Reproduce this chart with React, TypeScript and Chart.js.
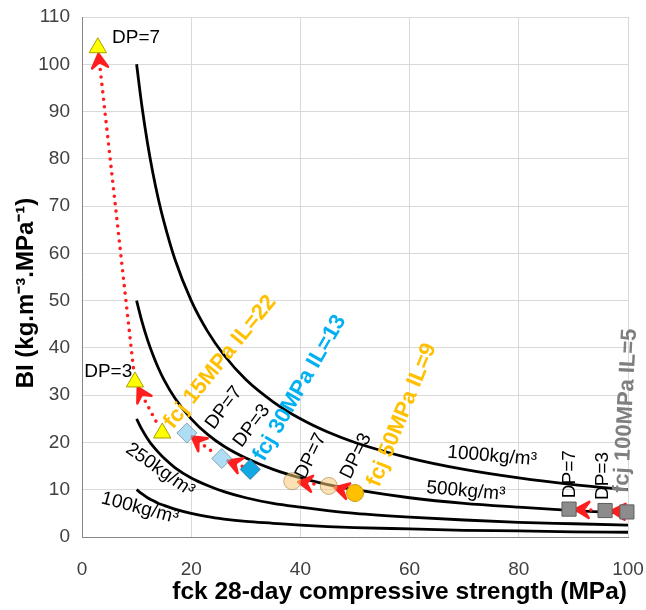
import React, { useEffect, useRef } from "react";
import { Chart, registerables } from "chart.js";

Chart.register(...registerables);

// ---------- data ----------
const xTickValues = [0, 20, 40, 60, 80, 100];
const fckGrid = [10, 11, 12, 13, 14, 15, 17, 20, 23, 26, 30, 35, 40, 45, 50, 60, 70, 80, 90, 100];
const bi1000 = [100, 90.9, 83.3, 76.9, 71.4, 66.7, 58.8, 50, 43.5, 38.5, 33.3, 28.6, 25, 22.2, 20, 16.7, 14.3, 12.5, 11.1, 10];
const bi500 = [50, 45.5, 41.7, 38.5, 35.7, 33.3, 29.4, 25, 21.7, 19.2, 16.7, 14.3, 12.5, 11.1, 10, 8.3, 7.1, 6.3, 5.6, 5];
const bi250 = [25, 22.7, 20.8, 19.2, 17.9, 16.7, 14.7, 12.5, 10.9, 9.6, 8.3, 7.1, 6.3, 5.6, 5, 4.2, 3.6, 3.1, 2.8, 2.5];
const bi100 = [10, 9.1, 8.3, 7.7, 7.1, 6.7, 5.9, 5, 4.3, 3.8, 3.3, 2.9, 2.5, 2.2, 2, 1.7, 1.4, 1.3, 1.1, 1];

// order of points in each series: DP=7, DP=3, initial
const fcj15X = [2.9, 9.7, 14.7];
const fcj15Y = [103.5, 32.8, 22.0];
const fcj30X = [19.2, 25.6, 30.8];
const fcj30Y = [22.0, 16.6, 14.3];
const fcj50X = [38.5, 45.2, 50.0];
const fcj50Y = [11.8, 10.8, 9.3];
const fcj100X = [89.2, 95.8, 99.8];
const fcj100Y = [5.9, 5.6, 5.3];

// text notes: [text, x, y, rotation(deg), style]
const notes: [string, number, number, number, string][] = [
  ["DP=7", 9.9, 105.6, 0, "dp"],
  ["DP=3", 4.8, 34.9, 0, "dp"],
  ["fcj 15MPa IL=22", 25.3, 37.0, -51, "orange"],
  ["fcj 30MPa IL=13", 39.9, 31.5, -60, "blue"],
  ["fcj 50MPa IL=9", 58.6, 25.8, -68, "orange"],
  ["fcj 100MPa IL=5", 99.6, 26.7, -87, "gray"],
  ["DP=7", 26.0, 27.3, -53, "dp"],
  ["DP=3", 31.1, 23.5, -53, "dp"],
  ["DP=7", 41.9, 17.1, -64, "dp"],
  ["DP=3", 50.2, 17.1, -64, "dp"],
  ["DP=7", 89.4, 13.3, -90, "dp"],
  ["DP=3", 95.4, 12.9, -90, "dp"],
  ["1000kg/m³", 75.1, 17.1, 5, "curve"],
  ["500kg/m³", 70.3, 9.7, 5, "curve"],
  ["250kg/m³", 14.3, 14.2, 35, "curve"],
  ["100kg/m³", 10.6, 6.1, 15, "curve"],
];

const FONT = '"Liberation Sans", Arial, sans-serif';
const noteStyles: Record<string, { color: string; font: string }> = {
  dp: { color: "#000000", font: `19px ${FONT}` },
  curve: { color: "#000000", font: `19px ${FONT}` },
  orange: { color: "#FFC000", font: `bold 22px ${FONT}` },
  blue: { color: "#00B0F0", font: `bold 22px ${FONT}` },
  gray: { color: "#7F7F7F", font: `bold 22px ${FONT}` },
};

function pts(xs: number[], ys: number[]) {
  return xs.map((x, i) => ({ x, y: ys[i] }));
}

function drawArrow(ctx: CanvasRenderingContext2D, x1: number, y1: number, x2: number, y2: number) {
  const dx = x2 - x1;
  const dy = y2 - y1;
  const len = Math.hypot(dx, dy);
  const ux = dx / len;
  const uy = dy / len;
  const px = -uy;
  const py = ux;
  const tipGap = 6;
  const headLen = 14;
  const half = 8;
  const tx = x2 - ux * tipGap;
  const ty = y2 - uy * tipGap;
  const bx = tx - ux * headLen * 0.6;
  const by = ty - uy * headLen * 0.6;
  ctx.save();
  ctx.strokeStyle = "#FF1E1E";
  ctx.fillStyle = "#FF1E1E";
  ctx.lineWidth = 3.6;
  ctx.lineCap = "round";
  ctx.setLineDash([0, 7.5]);
  ctx.beginPath();
  ctx.moveTo(bx, by);
  ctx.lineTo(x1 + ux * 8, y1 + uy * 8);
  ctx.stroke();
  ctx.setLineDash([]);
  ctx.lineJoin = "round";
  ctx.lineWidth = 2.5;
  ctx.beginPath();
  ctx.moveTo(tx, ty);
  ctx.lineTo(tx - ux * headLen + px * half, ty - uy * headLen + py * half);
  ctx.lineTo(bx, by);
  ctx.lineTo(tx - ux * headLen - px * half, ty - uy * headLen - py * half);
  ctx.closePath();
  ctx.fill();
  ctx.stroke();
  ctx.restore();
}

const chains = [
  [fcj15X, fcj15Y],
  [fcj30X, fcj30Y],
  [fcj50X, fcj50Y],
  [fcj100X, fcj100Y],
];

const annotPlugin = {
  id: "annot",
  afterDatasetDraw(chart: any, args: any) {
    if (args.index !== 0) return;
    const { ctx, scales } = chart;
    const xs = scales.x;
    const ys = scales.y;
    chains.forEach(([cx, cy]) => {
      for (let i = cx.length - 1; i > 0; i--) {
        drawArrow(
          ctx,
          xs.getPixelForValue(cx[i]),
          ys.getPixelForValue(cy[i]),
          xs.getPixelForValue(cx[i - 1]),
          ys.getPixelForValue(cy[i - 1])
        );
      }
    });
  },
  afterDatasetsDraw(chart: any) {
    const { ctx, scales } = chart;
    notes.forEach(([text, x, y, rot, style]) => {
      const st = noteStyles[style];
      ctx.save();
      ctx.translate(scales.x.getPixelForValue(x), scales.y.getPixelForValue(y));
      ctx.rotate((rot * Math.PI) / 180);
      ctx.font = st.font;
      ctx.fillStyle = st.color;
      ctx.textAlign = "center";
      ctx.textBaseline = "middle";
      ctx.fillText(text, 0, 0);
      ctx.restore();
    });
  },
  afterDraw(chart: any) {
    const { ctx, chartArea } = chart;
    ctx.save();
    ctx.fillStyle = "#000000";
    ctx.font = `bold 24.5px ${FONT}`;
    ctx.textBaseline = "middle";
    ctx.textAlign = "right";
    ctx.fillText("fck 28-day compressive strength (MPa)", chartArea.right - 1, 592);
    ctx.font = `bold 24px ${FONT}`;
    ctx.translate(26, 293);
    ctx.rotate(-Math.PI / 2);
    ctx.textAlign = "center";
    ctx.fillText("BI (kg.m⁻³.MPa⁻¹)", 0, 0);
    ctx.restore();
  },
};

export default function App() {
  const ref = useRef<HTMLCanvasElement | null>(null);
  useEffect(() => {
    if (!ref.current) return;
    const curve = (d: number[]) => ({
      type: "line" as const,
      data: pts(fckGrid, d),
      borderColor: "#000000",
      borderWidth: 2.8,
      pointRadius: 0,
      cubicInterpolationMode: "monotone" as const,
      fill: false,
      order: 10,
    });
    const chart = new Chart(ref.current, {
      type: "scatter",
      data: {
        datasets: [
          curve(bi1000),
          curve(bi500),
          curve(bi250),
          curve(bi100),
          {
            label: "fcj 15MPa",
            data: pts(fcj15X, fcj15Y),
            pointStyle: "triangle",
            pointRadius: 10,
            pointBackgroundColor: "#FFFF00",
            pointBorderColor: "#A8A000",
            pointBorderWidth: 1,
            clip: false,
            order: 0,
          },
          {
            label: "fcj 30MPa",
            data: pts(fcj30X, fcj30Y),
            pointStyle: "rectRot",
            pointRadius: 10,
            pointBackgroundColor: ["rgba(120,200,235,0.6)", "rgba(120,200,235,0.6)", "#12A9E2"],
            pointBorderColor: ["rgba(110,130,150,0.7)", "rgba(110,130,150,0.7)", "#2A7FA8"],
            pointBorderWidth: 1,
            clip: false,
            order: 0,
          },
          {
            label: "fcj 50MPa",
            data: pts(fcj50X, fcj50Y),
            pointStyle: "circle",
            pointRadius: 8.5,
            pointBackgroundColor: ["rgba(250,200,120,0.55)", "rgba(250,200,120,0.55)", "#FFC000"],
            pointBorderColor: ["rgba(160,130,70,0.6)", "rgba(160,130,70,0.6)", "#C89A10"],
            pointBorderWidth: 1,
            clip: false,
            order: 0,
          },
          {
            label: "fcj 100MPa",
            data: pts(fcj100X, fcj100Y),
            pointStyle: "rect",
            pointRadius: 10,
            pointBackgroundColor: "#8C8C8C",
            pointBorderColor: "#5E5E5E",
            pointBorderWidth: 1,
            clip: false,
            order: 0,
          },
        ] as any,
      },
      options: {
        animation: false,
        responsive: false,
        devicePixelRatio: 1,
        layout: { padding: { top: 17, right: 18, left: 0, bottom: 0 } },
        plugins: { legend: { display: false }, tooltip: { enabled: false } },
        scales: {
          x: {
            type: "linear",
            min: 0,
            max: 100,
            afterFit: (s: any) => {
              s.height = 73;
              s.paddingLeft = 0;
              s.paddingRight = 0;
            },
            afterBuildTicks: (s: any) => {
              s.ticks = xTickValues.map((v) => ({ value: v }));
            },
            ticks: { font: { size: 19, family: FONT }, color: "#404040", padding: 21 },
            grid: { color: "#D9D9D9", drawTicks: false },
            border: { color: "#868686" },
          },
          y: {
            type: "linear",
            min: 0,
            max: 110,
            afterFit: (s: any) => {
              s.width = 82;
              s.paddingTop = 0;
              s.paddingBottom = 0;
            },
            ticks: { stepSize: 10, font: { size: 19, family: FONT }, color: "#404040", padding: 12 },
            grid: { color: "#D9D9D9", drawTicks: false },
            border: { color: "#868686" },
          },
        },
      },
      plugins: [annotPlugin],
    });
    return () => chart.destroy();
  }, []);
  return (
    <div style={{ position: "absolute", left: 0, top: 0, width: 646, height: 610, background: "#fff" }}>
      <canvas ref={ref} width={646} height={610} />
    </div>
  );
}
